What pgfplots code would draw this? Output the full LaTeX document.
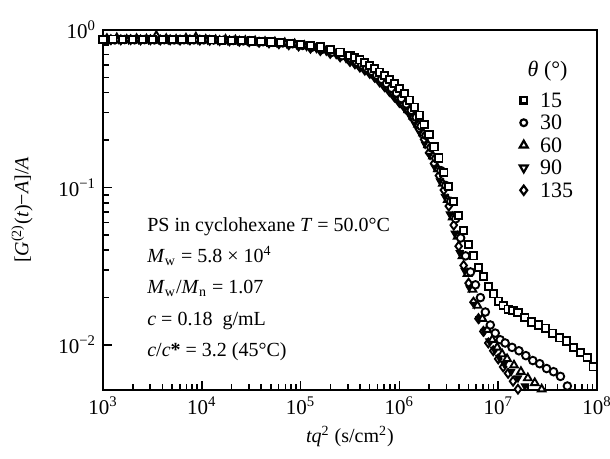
\documentclass[border=0pt]{standalone}
\usepackage{pgfplots}
\pgfplotsset{compat=1.18}
\usepackage{fontspec}
\setmainfont{Liberation Serif}
\begin{document}
\begin{tikzpicture}
\path[use as bounding box] (-51.5pt,-34.5pt) rectangle (253.5pt,195pt);
\begin{axis}[
  scale only axis, width=247pt, height=180pt,
  xmode=log, ymode=log,
  xmin=1e3, xmax=1e8, ymin=5.18e-3, ymax=1,
  xtick={1e3,1e4,1e5,1e6,1e7,1e8},
  xticklabels={10\textsuperscript{3},10\textsuperscript{4},10\textsuperscript{5},10\textsuperscript{6},10\textsuperscript{7},10\textsuperscript{8}},
  ytick={1e-2,1e-1,1},
  yticklabels={10\textsuperscript{−2},10\textsuperscript{−1},10\textsuperscript{0}},
  tick label style={font=\fontsize{10.5}{12}\selectfont},
  tick pos=left,
  major tick length=4.5pt, minor tick length=3pt,
  axis line style={line width=1.1pt},
  every tick/.style={black, line width=0.8pt},
  every axis y label/.style={at={(axis description cs:-0.164,0.5)}, rotate=90, anchor=center},
  every axis x label/.style={at={(axis description cs:0.5,-0.13)}, anchor=center},
  xlabel={\textit{tq}\textsuperscript{2} (s/cm\textsuperscript{2})},
  ylabel={[\textit{G}\textsuperscript{(2)}(\textit{t})−\textit{A}]/\textit{A}},
  legend style={draw=none, fill=none, at={(rel axis cs:0.842,0.831)}, anchor=north west,
    row sep=2.25pt, inner sep=0pt, font=\fontsize{11}{13}\selectfont,
    nodes={inner sep=1pt, text height=7pt, text depth=0pt}},
  legend cell align=left,
  legend image code/.code={\path (-2pt,0pt) (7pt,0pt); \draw[#1] plot coordinates {(0pt,0pt)};},
  mark options={fill=white, line width=0.95pt},
]
\addlegendimage{only marks, mark=square*, mark size=1.6pt, mark options={fill=white, line width=1.1pt}}
\addlegendentry{15}
\addlegendimage{only marks, mark=*, mark size=1.7pt, mark options={fill=white, line width=1.1pt}}
\addlegendentry{30}
\addlegendimage{only marks, mark=triangle*, mark size=2.3pt, mark options={fill=white, line width=1.1pt}}
\addlegendentry{60}
\addlegendimage{only marks, mark=triangle*, mark size=2.3pt, mark options={fill=white, line width=1.1pt, rotate=180}}
\addlegendentry{90}
\addlegendimage{only marks, mark=diamond*, mark size=2.3pt, mark options={fill=white, line width=1.1pt}}
\addlegendentry{135}

% 135 deg (diamonds)
\addplot[only marks, mark=diamond*, mark size=2.2pt, forget plot] coordinates {
(1202,0.868)(1514,0.866)(1905,0.869)(2399,0.865)(3020,0.867)(3802,0.864)(4786,0.866)(6026,0.863)(7586,0.865)(9550,0.862)
(12020,0.860)(15140,0.857)(19050,0.854)(23990,0.849)(30200,0.843)(38020,0.836)(47860,0.828)(60260,0.818)(75860,0.806)(95500,0.792)
(1.259e5,0.767)(1.585e5,0.741)(1.995e5,0.711)(2.512e5,0.676)(3.162e5,0.631)(3.548e5,0.610)(3.981e5,0.582)(4.467e5,0.556)(5.012e5,0.531)(5.623e5,0.501)
(6.310e5,0.468)(7.079e5,0.437)(7.943e5,0.407)(8.913e5,0.376)(1e6,0.347)(1.122e6,0.324)(1.259e6,0.302)(1.413e6,0.269)(1.585e6,0.234)(1.778e6,0.202)
(1.995e6,0.166)(2.239e6,0.142)(2.512e6,0.119)(2.818e6,0.0964)(3.162e6,0.0762)(3.548e6,0.0577)(3.981e6,0.0424)(4.467e6,0.0320)(5.012e6,0.0247)(5.623e6,0.0187)
(6.310e6,0.0147)(7.079e6,0.0122)(7.943e6,0.0103)(8.913e6,0.00919)(1e7,0.00816)(1.122e7,0.00726)(1.259e7,0.00661)(1.413e7,0.00589)(1.585e7,0.00524)(1.778e7,0.00466)
};
% 90 deg (down triangles)
\addplot[only marks, mark=triangle*, mark size=2.2pt, mark options={rotate=180}, forget plot] coordinates {
(1148,0.866)(1445,0.869)(1820,0.864)(2291,0.868)(2884,0.865)(3631,0.867)(4571,0.863)(5754,0.866)(7244,0.864)(9120,0.863)
(11480,0.862)(14450,0.860)(18200,0.857)(22910,0.853)(28840,0.848)(36310,0.842)(45710,0.836)(57540,0.828)(72440,0.818)(91200,0.806)
(1.148e5,0.785)(1.445e5,0.762)(1.820e5,0.733)(2.291e5,0.698)(2.884e5,0.658)(3.631e5,0.612)(4.074e5,0.586)(4.571e5,0.558)(5.129e5,0.530)(5.754e5,0.499)
(6.457e5,0.468)(7.244e5,0.437)(8.128e5,0.406)(9.120e5,0.374)(1.023e6,0.343)(1.148e6,0.313)(1.288e6,0.282)(1.445e6,0.251)(1.622e6,0.221)(1.820e6,0.188)
(2.042e6,0.160)(2.291e6,0.134)(2.570e6,0.110)(2.884e6,0.0877)(3.236e6,0.0678)(3.631e6,0.0512)(4.074e6,0.0386)(4.571e6,0.0297)(5.129e6,0.0230)(5.754e6,0.0181)
(6.457e6,0.0147)(7.244e6,0.0122)(8.128e6,0.0106)(9.120e6,0.00939)(1.023e7,0.00836)(1.148e7,0.00761)(1.349e7,0.00677)(1.585e7,0.00617)(1.862e7,0.00549)(2.188e7,0.00488)
};
% 60 deg (triangles)
\addplot[only marks, mark=triangle*, mark size=2.2pt, forget plot] coordinates {
(1096,0.880)(1380,0.890)(1738,0.870)(2188,0.880)(2754,0.875)(3467,0.920)(4365,0.880)(5495,0.870)(6918,0.885)(8710,0.900)
(10960,0.870)(13800,0.865)(17380,0.870)(21880,0.862)(27540,0.855)(34670,0.850)(43650,0.842)(54950,0.838)(69180,0.828)(87100,0.815)
(1.096e5,0.794)(1.380e5,0.773)(1.738e5,0.746)(2.188e5,0.715)(2.754e5,0.676)(3.467e5,0.634)(3.890e5,0.610)(4.365e5,0.582)(4.898e5,0.555)(5.495e5,0.525)
(6.166e5,0.494)(6.918e5,0.463)(7.762e5,0.433)(8.710e5,0.402)(9.772e5,0.372)(1.096e6,0.341)(1.230e6,0.311)(1.380e6,0.282)(1.549e6,0.251)(1.738e6,0.221)
(1.950e6,0.186)(2.188e6,0.158)(2.455e6,0.131)(2.754e6,0.106)(3.090e6,0.0837)(3.467e6,0.0648)(3.890e6,0.0489)(4.365e6,0.0368)(4.898e6,0.0284)(5.495e6,0.0225)
(6.166e6,0.0178)(6.918e6,0.0147)(7.762e6,0.0125)(8.710e6,0.0108)(9.772e6,0.00966)(1.096e7,0.00876)(1.230e7,0.00816)(1.445e7,0.00744)(1.698e7,0.00677)(1.995e7,0.00617)
(2.344e7,0.00575)(2.754e7,0.00524)(3.236e7,0.00478)
};
% 30 deg (circles)
\addplot[only marks, mark=*, mark size=1.9pt, forget plot] coordinates {
(1047,0.868)(1318,0.866)(1660,0.870)(2089,0.867)(2630,0.869)(3311,0.866)(4169,0.868)(5248,0.865)(6607,0.867)(8318,0.866)
(10470,0.866)(13180,0.864)(16600,0.862)(20890,0.858)(26300,0.853)(33110,0.849)(41690,0.843)(52480,0.836)(66070,0.828)(83180,0.818)
(1.047e5,0.798)(1.318e5,0.780)(1.660e5,0.755)(2.089e5,0.724)(2.630e5,0.687)(3.311e5,0.649)(3.715e5,0.625)(4.169e5,0.600)(4.677e5,0.573)(5.248e5,0.546)
(5.888e5,0.516)(6.607e5,0.486)(7.413e5,0.457)(8.318e5,0.427)(9.333e5,0.398)(1.047e6,0.367)(1.175e6,0.339)(1.318e6,0.309)(1.479e6,0.279)(1.660e6,0.245)
(1.862e6,0.214)(2.089e6,0.179)(2.344e6,0.153)(2.630e6,0.128)(2.951e6,0.103)(3.311e6,0.0817)(3.715e6,0.0633)(4.169e6,0.0478)(4.677e6,0.0368)(5.248e6,0.0291)
(5.888e6,0.0241)(6.607e6,0.0200)(7.413e6,0.0162)(8.318e6,0.0134)(9.333e6,0.0119)(1.047e7,0.0108)(1.175e7,0.0103)(1.380e7,0.00966)(1.622e7,0.00919)(1.905e7,0.00856)
(2.239e7,0.00797)(2.630e7,0.00761)(3.090e7,0.00709)(3.631e7,0.00677)(4.266e7,0.00632)(5.012e7,0.00549)(5.888e7,0.00488)
};
% 15 deg (squares)
\addplot[only marks, mark=square*, mark size=1.8pt, forget plot] coordinates {
(1000,0.871)(1259,0.875)(1585,0.869)(1995,0.873)(2512,0.871)(3162,0.867)(3981,0.873)(5012,0.869)(6310,0.871)(7943,0.867)
(10000,0.867)(12590,0.865)(15850,0.863)(19950,0.859)(25120,0.855)(31620,0.851)(39810,0.845)(50120,0.839)(63100,0.832)(79430,0.822)
(1e5,0.813)(1.259e5,0.798)(1.585e5,0.780)(1.995e5,0.755)(2.512e5,0.724)(3.162e5,0.687)(3.548e5,0.667)(3.981e5,0.646)(4.467e5,0.621)(5.012e5,0.596)
(5.623e5,0.569)(6.310e5,0.540)(7.079e5,0.513)(7.943e5,0.484)(8.913e5,0.457)(1e6,0.427)(1.122e6,0.394)(1.259e6,0.359)(1.413e6,0.324)(1.585e6,0.288)
(1.778e6,0.251)(1.995e6,0.216)(2.239e6,0.181)(2.512e6,0.154)(2.818e6,0.125)(3.162e6,0.101)(3.548e6,0.0817)(3.981e6,0.0662)(4.467e6,0.0535)(5.012e6,0.0434)
(5.623e6,0.0368)(6.310e6,0.0312)(7.079e6,0.0271)(7.943e6,0.0235)(8.913e6,0.0211)(1e7,0.0190)(1.122e7,0.0178)(1.259e7,0.0169)(1.413e7,0.0165)(1.585e7,0.0161)
(1.862e7,0.0150)(2.188e7,0.0140)(2.570e7,0.0134)(3.020e7,0.0128)(3.548e7,0.0119)(4.169e7,0.0111)(4.898e7,0.0106)(5.754e7,0.00966)(6.761e7,0.00898)(7.943e7,0.00836)
(9.120e7,0.00726)
};

\node[font=\fontsize{11}{13}\selectfont] at (rel axis cs:0.90,0.885) {\textit{θ} (°)};
\node[anchor=base west, inner sep=0pt] at (rel axis cs:0.089,0.4389) {PS in cyclohexane \textit{T} = 50.0°C};
\node[anchor=base west, inner sep=0pt] at (rel axis cs:0.089,0.3528) {\textit{M}\textsubscript{w} = 5.8 × 10\textsuperscript{4}};
\node[anchor=base west, inner sep=0pt] at (rel axis cs:0.089,0.2667) {\textit{M}\textsubscript{w}/\textit{M}\textsubscript{n} = 1.07};
\node[anchor=base west, inner sep=0pt] at (rel axis cs:0.089,0.1778) {\textit{c} = 0.18~~g/mL};
\node[anchor=base west, inner sep=0pt] at (rel axis cs:0.089,0.0917) {\textit{c}/\textit{c}\textbf{*} = 3.2 (45°C)};
\end{axis}
\end{tikzpicture}
\end{document}
